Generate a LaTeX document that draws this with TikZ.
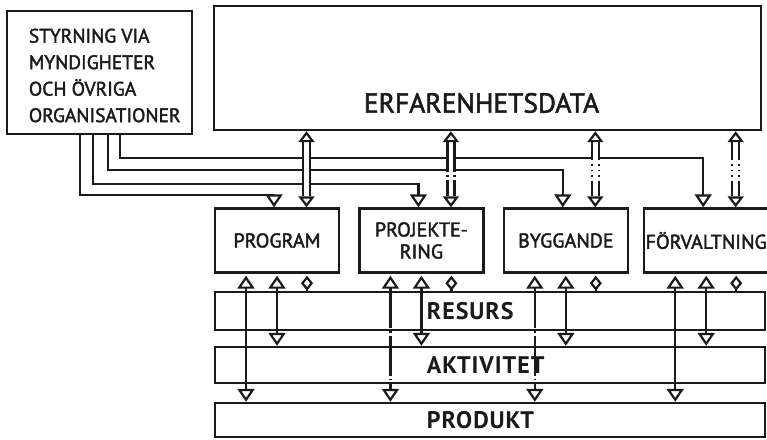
\documentclass[tikz,border=0pt]{standalone}
\usepackage{fontspec}
\setmainfont{PT Sans}
\newfontface\stencil{PT Sans}[FakeBold=2]
\newfontface\stencilbold{PT Sans Bold}[LetterSpace=4]
\usetikzlibrary{arrows.meta,positioning,calc}
\definecolor{InkBlack}{HTML}{1A1A1A}

\begin{document}
\begin{tikzpicture}[x=1pt,y=-1pt,line width=2.2pt,color=InkBlack,
  box/.style={draw,line width=2.4pt,inner sep=0pt},
  fase/.style={box,minimum width=124pt,minimum height=64pt,align=center,
    font=\stencil\fontsize{20}{22}\selectfont},
  band/.style={box,minimum width=550pt},
  bandtext/.style={anchor=west,inner sep=0pt,font=\stencilbold\fontsize{24}{26}\selectfont},
  ctrl/.style={-{Triangle[open,width=17pt,length=13pt]}},
  dbl/.style={{Triangle[open,width=16pt,length=11pt]}-{Triangle[open,width=16pt,length=11pt]}},
  lowtip/.style={{Triangle[open,width=17pt,length=13pt]}-{Triangle[open,width=17pt,length=13pt]},shorten <=2pt},
  gapline/.style={dash pattern=on 40pt off 3pt on 1.5pt off 3pt},
  shaftA/.style={solid},
  shaftB/.style={dash pattern=on 30pt off 3pt on 1.5pt off 3pt on 40pt},
  shaftC/.style={dash pattern=on 18pt off 4pt on 1.5pt off 4pt on 1.5pt off 4pt on 1.5pt off 4pt on 40pt}]
  \useasboundingbox (0,0) rectangle (767,439);
  \node[box,minimum width=185pt,minimum height=123pt] (styr) at (99.5,72.5) {};
  \node[anchor=west,inner sep=0pt,align=left,font=\stencil\fontsize{19.5}{26.5}\selectfont]
        (styrtext) at ([xshift=22pt,yshift=-3pt]styr.west)
        {STYRNING VIA\\MYNDIGHETER\\OCH ÖVRIGA\\ORGANISATIONER};
  \node[box,minimum width=547pt,minimum height=124pt] (erf) at (487.5,68) {};
  \node[inner sep=0pt,font=\stencil\fontsize{27.5}{30}\selectfont] (erftext)
        at ([xshift=-6pt,yshift=-35pt]erf.center) {ERFARENHETSDATA};

  \node[fase] (prog) at (277,240.5) {PROGRAM};
  \node[fase,right=18pt of prog] (proj) {PROJEKTE-\\RING};
  \node[fase,right=18pt of proj] (bygg) {BYGGANDE};
  \node[fase,right=14pt of bygg] (forv) {FÖRVALTNING};

  \node[band,minimum height=38pt] (res) at (490,311) {};
  \node[band,minimum height=36pt] (akt) at (490,365) {};
  \node[band,minimum height=34pt] (prod) at (490,420) {};
  \node[bandtext] (restext) at ([xshift=212pt]res.west) {RESURS};
  \node[bandtext] (akttext) at ([xshift=212pt]akt.west) {AKTIVITET};
  \node[bandtext] (prodtext) at ([xshift=212pt]prod.west) {PRODUKT};

  \foreach \dx/\b/\h in {-19.5/prog/12,-6.5/proj/23,8.5/bygg/37,20.5/forv/49}
    \draw[ctrl] ([xshift=\dx pt]styr.south) |- ([xshift=-3pt,yshift=\h pt]\b.north)
      -- ([xshift=-3pt]\b.north);

  \foreach \b/\s in {prog/shaftA,proj/shaftB,bygg/shaftC,forv/shaftC}{
    \coordinate (\b-e) at ([xshift=29.5pt]\b.north);
    \coordinate (\b-d) at (erf.south -| \b-e);
    \draw[white,line width=4.6pt,shorten <=11pt,shorten >=11pt] (\b-d) -- (\b-e);
    \path[tips,dbl] (\b-d) -- (\b-e);
    \draw[\s,shorten <=11pt,shorten >=11pt] ($(\b-d)+(-3.5,0)$) -- ($(\b-e)+(-3.5,0)$);
    \draw[\s,shorten <=11pt,shorten >=11pt] ($(\b-d)+(3.5,0)$) -- ($(\b-e)+(3.5,0)$);
  }

  \foreach \b/\s in {prog/solid,proj/gapline,bygg/gapline,forv/solid}{
    \coordinate (\b-p) at ([xshift=-31pt]\b.south);
    \coordinate (\b-a) at (\b.south);
    \coordinate (\b-r) at ([xshift=30pt]\b.south);
    \draw[lowtip,\s] (\b-p) -- (\b-p |- prod.north);
    \draw[lowtip] (\b-a) -- (\b-a |- akt.north);
    \draw[-{Diamond[open,width=12pt,length=15pt]},shorten >=2pt] (\b-r |- res.north) -- (\b-r);
  }
\end{tikzpicture}
\end{document}
